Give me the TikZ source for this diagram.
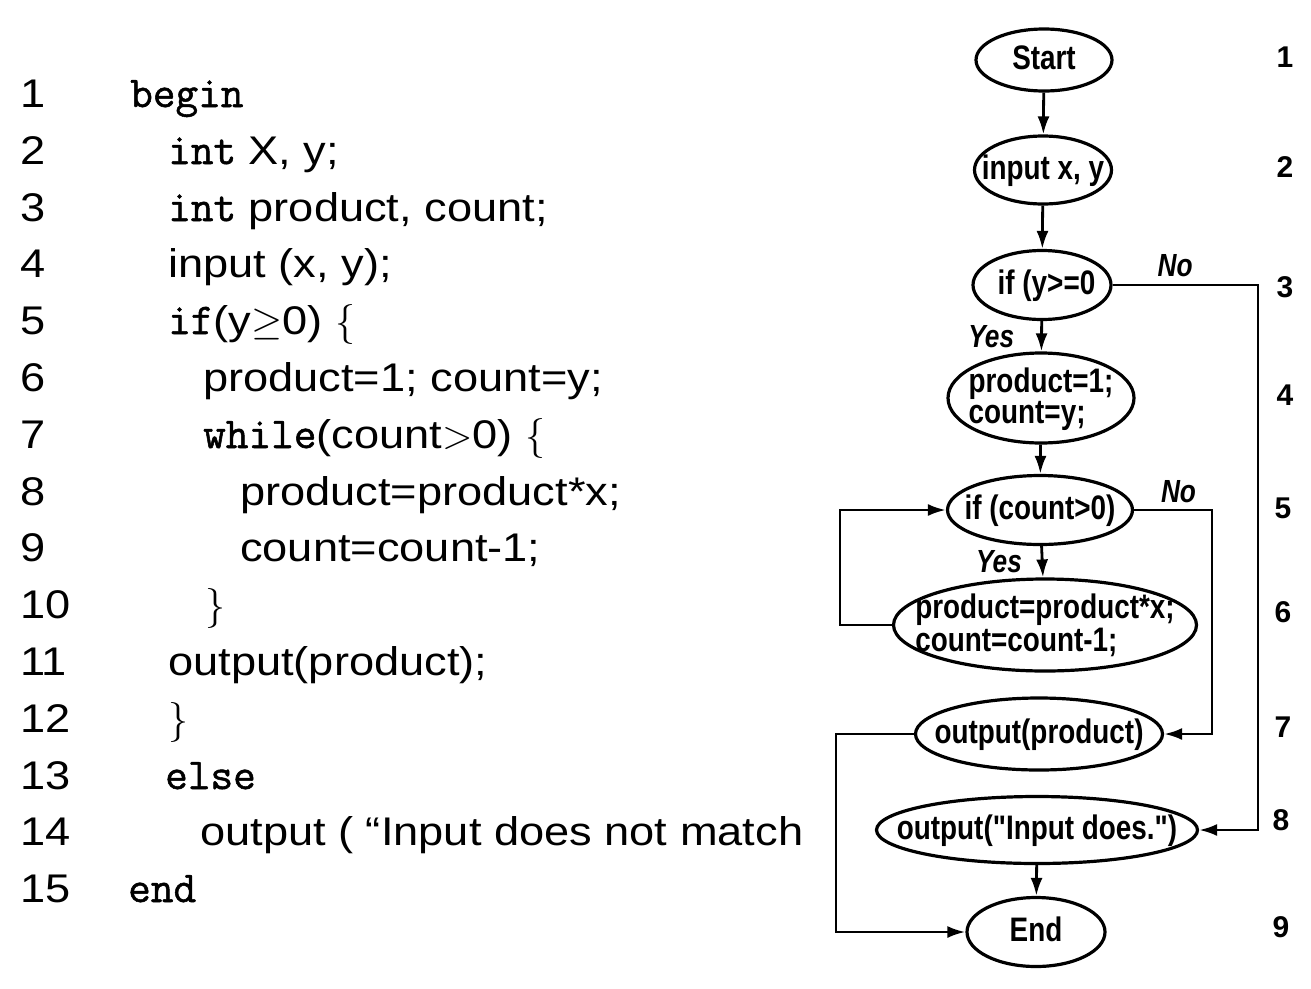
\RequirePackage{fix-cm}
\documentclass[tikz,border=0pt]{standalone}
\usepackage{fontspec}
\usepackage{tikz}
\usetikzlibrary{arrows.meta,shapes.geometric}
\setmainfont{Liberation Sans}
\newfontfamily\codefont{Liberation Sans}[FakeStretch=1.13]
\newfontfamily\chartfont{Liberation Sans}[FakeStretch=0.82]
\newfontfamily\kwfont{Latin Modern Mono}[FakeBold=1.2]
\newcommand{\kw}[1]{{\kwfont\fontsize{44}{48}\selectfont #1}}
\newcommand{\chartlines}[1]{\makebox[0pt]{\smash{\raisebox{-10.5pt}{\begin{tabular}{@{}l@{}}#1\end{tabular}}}}}

\begin{document}
\begin{tikzpicture}[x=1pt,y=-1pt,
  code/.style={anchor=base west,inner sep=0pt,font=\codefont\fontsize{40}{48}\selectfont},
  ellip/.style={ellipse,draw,line width=3.2pt,inner sep=0pt,font=\chartfont\bfseries\fontsize{34}{29}\selectfont},
  flow/.style={line width=2.8pt,-{Latex[length=18pt,width=12pt]}},
  branch/.style={font=\chartfont\bfseries\itshape\fontsize{32}{32}\selectfont,inner sep=2pt},
  stepno/.style={font=\bfseries\fontsize{30}{30}\selectfont}]
\useasboundingbox (0,0) rectangle (1311,988);
% line numbers of the program
\node[code] (n1) at (20,107) {1};
\node[code] (n2) at (20,164) {2};
\node[code] (n3) at (20,221) {3};
\node[code] (n4) at (20,277) {4};
\node[code] (n5) at (20,334) {5};
\node[code] (n6) at (20,391) {6};
\node[code] (n7) at (20,448) {7};
\node[code] (n8) at (20,505) {8};
\node[code] (n9) at (20,561) {9};
\node[code] (n10) at (20,618) {10};
\node[code] (n11) at (20,675) {11};
\node[code] (n12) at (20,732) {12};
\node[code] (n13) at (20,789) {13};
\node[code] (n14) at (20,845) {14};
\node[code] (n15) at (20,902) {15};
% program text
\node[code] (l1) at (130,107) {\kw{begin}};
\node[code] (l2) at (168,164) {\kw{int} X, y;};
\node[code] (l3) at (168,221) {\kw{int} product, count;};
\node[code] (l4) at (168,277) {input (x, y);};
\node[code] (l5) at (168,334) {\kw{if}(y$\geq$0) $\{$};
\node[code] (l6) at (203,391) {product=1; count=y;};
\node[code] (l7) at (203,448) {\kw{while}(count$>$0) $\{$};
\node[code] (l8) at (240,505) {product=product*x;};
\node[code] (l9) at (240,561) {count=count-1;};
\node[code] (l10) at (205,618) {$\}$};
\node[code] (l11) at (168,675) {output(product);};
\node[code] (l12) at (168,732) {$\}$};
\node[code] (l13) at (165,789) {\kw{else}};
\node[code] (l14) at (200,845) {output ( “Input does not match};
\node[code] (l15) at (128,902) {\kw{end}};
% flowchart nodes
\node[ellip,minimum width=136,minimum height=62] (start) at (1044,60) {\chartlines{Start}};
\node[ellip,minimum width=137,minimum height=68] (input) at (1043,170) {\chartlines{input x, y}};
\node[ellip,minimum width=138,minimum height=69] (ifpos) at (1042,285) {\chartlines{\hspace*{9pt}if (y>=0}};
\node[ellip,minimum width=186,minimum height=90] (init) at (1041,398) {\chartlines{product=1;\\count=y;}};
\node[ellip,minimum width=185,minimum height=69] (ifcount) at (1040,510) {\chartlines{if (count>0)}};
\node[ellip,minimum width=303,minimum height=92] (body) at (1045,625) {\chartlines{product=product*x;\\count=count-1;}};
\node[ellip,minimum width=247,minimum height=72] (outprod) at (1039,734) {\chartlines{output(product)}};
\node[ellip,minimum width=321,minimum height=67] (outmsg) at (1037,830) {\chartlines{output("Input does.")}};
\node[ellip,minimum width=138,minimum height=69] (stop) at (1036,932) {\chartlines{End}};
% corner points of the side lines
\coordinate (nofar) at (1258,0);
\coordinate (nonear) at (1212,0);
\coordinate (loopback) at (840,0);
\coordinate (exitleft) at (836,0);
% connectors
\draw[flow] (start) -- (input);
\draw[flow] (input) -- (ifpos);
\draw[flow] (ifpos) -- node[branch,left=24pt] {Yes} (init);
\draw[flow] (ifpos) -- node[branch,above=5pt,pos=0.43] {No} (ifpos -| nofar) |- (outmsg);
\draw[flow] (init) -- (ifcount);
\draw[flow] (ifcount) -- node[branch,left=17pt] {Yes} (body);
\draw[flow] (ifcount) -- node[branch,above=4pt,pos=0.57] {No} (ifcount -| nonear) |- (outprod);
\draw[flow] (body) -- (body -| loopback) |- (ifcount);
\draw[flow] (outprod) -- (outprod -| exitleft) |- (stop);
\draw[flow] (outmsg) -- (stop);
% statement numbers of the flowchart
\node[stepno] (s1) at (1285,57) {1};
\node[stepno] (s2) at (1285,167) {2};
\node[stepno] (s3) at (1285,287) {3};
\node[stepno] (s4) at (1285,395) {4};
\node[stepno] (s5) at (1283,508) {5};
\node[stepno] (s6) at (1283,612) {6};
\node[stepno] (s7) at (1283,727) {7};
\node[stepno] (s8) at (1281,820) {8};
\node[stepno] (s9) at (1281,927) {9};
\end{tikzpicture}
\end{document}
